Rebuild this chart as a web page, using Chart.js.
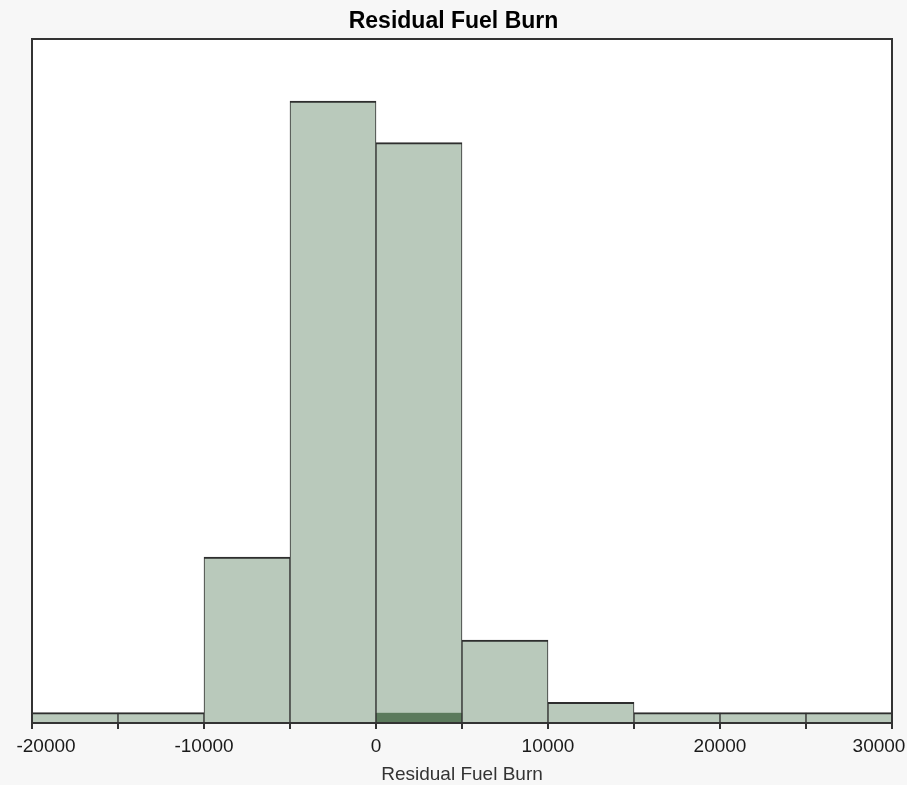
<!DOCTYPE html>
<html>
<head>
<meta charset="utf-8">
<script src="https://cdn.jsdelivr.net/npm/chart.js@4/dist/chart.umd.min.js"></script>
<style>
  html, body { margin: 0; padding: 0; background: #f7f7f7; }
  #wrap { width: 907px; height: 785px; position: relative; }
</style>
</head>
<body>
<div id="wrap"><canvas id="c" width="907" height="785"></canvas></div>
<script>
// ---- data ----
const chartTitle = 'Residual Fuel Burn';
const axisTitle = 'Residual Fuel Burn';
const binStarts = [-20000, -15000, -10000, -5000, 0, 5000, 10000, 15000, 20000, 25000];
const binWidth = 5000;
const counts = [1, 1, 16, 60, 56, 8, 2, 1, 1, 1];
const highlighted = [0, 0, 0, 0, 1, 0, 0, 0, 0, 0];
const xMin = -20000, xMax = 30000, tickStep = 5000, labelStep = 10000;
const yMax = 66;

const toPoints = arr => arr
  .map((v, i) => ({ x: binStarts[i] + binWidth / 2, y: v }))
  .filter(p => p.y > 0);

const FONT = "'Liberation Sans', Arial, sans-serif";

const framePlugin = {
  id: 'frame',
  beforeDraw(chart) {
    // nudge the outermost tick labels inward like the reference
    const s = chart.scales.x;
    try {
      const items = s.getLabelItems();
      if (items && items.length) {
        items[0].options.translation[0] += 14;
        items[items.length - 1].options.translation[0] -= 13;
      }
    } catch (e) {}
  },
  beforeDatasetsDraw(chart) {
    const { ctx, chartArea: a } = chart;
    ctx.save();
    ctx.fillStyle = '#ffffff';
    ctx.fillRect(a.left, a.top, a.right - a.left, a.bottom - a.top);
    ctx.restore();
  },
  afterDatasetsDraw(chart) {
    const { ctx, chartArea: a } = chart;
    ctx.save();
    ctx.strokeStyle = '#333333';
    ctx.lineWidth = 2;
    ctx.strokeRect(a.left, a.top, a.right - a.left, a.bottom - a.top);
    ctx.restore();
  }
};

new Chart(document.getElementById('c'), {
  type: 'bar',
  data: {
    datasets: [
      {
        label: 'Selected',
        data: toPoints(highlighted),
        backgroundColor: '#5b7a5c',
        borderColor: '#2e2e2e',
        borderWidth: { top: 0, left: 1, right: 1, bottom: 0 },
        borderSkipped: false,
        barPercentage: 1,
        categoryPercentage: 1,
        grouped: false,
        order: 0
      },
      {
        label: 'Residual Fuel Burn',
        data: toPoints(counts),
        backgroundColor: '#b9c9bb',
        borderColor: '#2e2e2e',
        borderWidth: { top: 2, left: 1, right: 1, bottom: 0 },
        borderSkipped: false,
        barPercentage: 1,
        categoryPercentage: 1,
        grouped: false,
        order: 1
      }
    ]
  },
  options: {
    responsive: false,
    animation: false,
    events: [],
    layout: { padding: 0 },
    plugins: {
      legend: { display: false },
      tooltip: { enabled: false },
      title: {
        display: true,
        text: chartTitle,
        color: '#000000',
        font: { family: FONT, size: 23, weight: 'bold' },
        padding: { top: 8.3, bottom: 3.1 }
      }
    },
    scales: {
      x: {
        type: 'linear',
        min: xMin,
        max: xMax,
        offset: false,
        border: { display: false },
        grid: {
          display: true,
          offset: false,
          drawOnChartArea: false,
          drawTicks: true,
          tickLength: 6,
          color: '#333333',
          lineWidth: 2
        },
        ticks: {
          stepSize: tickStep,
          autoSkip: false,
          maxRotation: 0,
          padding: 6,
          color: '#1a1a1a',
          font: { family: FONT, size: 19 },
          callback: v => (v % labelStep === 0 ? String(v) : '')
        },
        title: {
          display: true,
          text: axisTitle,
          color: '#333333',
          font: { family: FONT, size: 19 },
          padding: { top: 4, bottom: -1.5 }
        },
        afterFit(scale) {
          scale.paddingLeft = 32;
          scale.paddingRight = 15;
          scale.height = 62;
        }
      },
      y: {
        display: false,
        min: 0,
        max: yMax
      }
    }
  },
  plugins: [framePlugin]
});
</script>
</body>
</html>
